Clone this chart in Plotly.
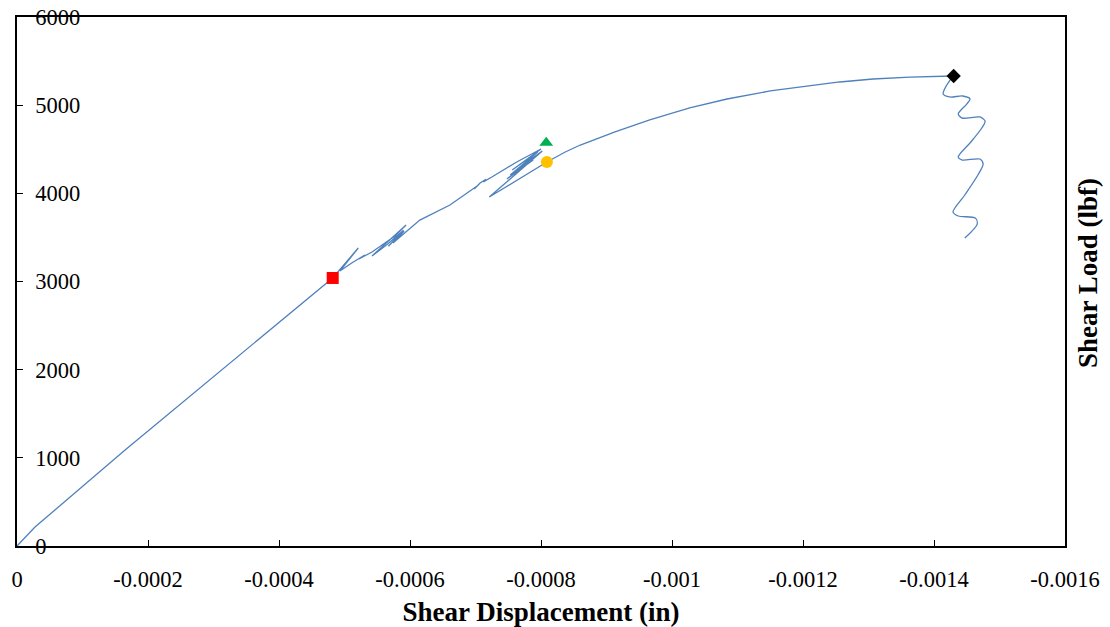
import plotly.graph_objects as go

# Shear load vs. shear displacement record (loading branch up to peak)
disp_in = [0, -0.0000275, -0.000165, -0.000325, -0.000482,
           -0.000521, -0.000493, -0.000511, -0.000531, -0.000522, -0.000542,
           -0.000577, -0.000594, -0.000542, -0.000566, -0.000590, -0.000567,
           -0.000585, -0.000573, -0.000591, -0.000574,
           -0.000615, -0.000661, -0.000684, -0.000697, -0.000703, -0.000698,
           -0.000707, -0.000716, -0.000712, -0.000725, -0.000763,
           -0.000800, -0.000756, -0.000795, -0.000753, -0.000792, -0.000748,
           -0.000788, -0.000768, -0.000802, -0.000721,
           -0.000809, -0.000837, -0.000860, -0.000913, -0.000966, -0.001027,
           -0.001084, -0.001150, -0.001206, -0.001256, -0.001307, -0.001363,
           -0.001429]
load_lbf = [0, 215, 1089, 2076, 3040,
            3380, 3119, 3210, 3300, 3255, 3335,
            3516, 3641, 3289, 3425, 3580, 3400,
            3539, 3471, 3573, 3437,
            3697, 3868, 3992, 4060, 4085, 4050,
            4117, 4160, 4130, 4185, 4355,
            4503, 4265, 4469, 4208, 4423, 4163,
            4378, 4299, 4480, 3958,
            4355, 4469, 4548, 4696, 4832, 4968,
            5070, 5161, 5217, 5263, 5297, 5319,
            5331]

# Post-peak softening branch
post_disp_in = [-0.001429, -0.001417, -0.001414, -0.001424, -0.001444, -0.001455,
                -0.001450, -0.001437, -0.001443, -0.001470, -0.001478, -0.001473,
                -0.001455, -0.001437, -0.001443, -0.001470, -0.001475, -0.001467,
                -0.001447, -0.001429, -0.001437, -0.001463, -0.001466, -0.001447]
post_load_lbf = [5331, 5195, 5127, 5093, 5104, 5070,
                 5013, 4900, 4854, 4866, 4820, 4741,
                 4571, 4412, 4378, 4389, 4333, 4208,
                 3981, 3788, 3743, 3720, 3652, 3493]

# Characteristic points
first_crack = (-0.000482, 3040)
max_elastic = (-0.000808, 4575)
yield_point = (-0.000809, 4355)
peak_point = (-0.00143, 5331)

x_tick_vals = [0, -0.0002, -0.0004, -0.0006, -0.0008, -0.001, -0.0012, -0.0014, -0.0016]
x_tick_text = ["0", "-0.0002", "-0.0004", "-0.0006", "-0.0008", "-0.001", "-0.0012", "-0.0014", "-0.0016"]
y_tick_vals = [0, 1000, 2000, 3000, 4000, 5000, 6000]

line_color = "#4f81bd"
serif = "Liberation Serif"
tick_font = dict(family=serif, size=22.5, color="black")
title_font = dict(family=serif, size=27, color="black")

fig = go.Figure()
fig.add_trace(go.Scatter(x=disp_in, y=load_lbf, mode="lines",
                         line=dict(color=line_color, width=1.3), showlegend=False))
fig.add_trace(go.Scatter(x=post_disp_in, y=post_load_lbf, mode="lines",
                         line=dict(color=line_color, width=1.3, shape="spline", smoothing=0.8),
                         showlegend=False))

markers = [
    (first_crack, "square", "#ff0000", 12),
    (max_elastic, "triangle-up", "#00b050", 12),
    (yield_point, "circle", "#ffc000", 12),
    (peak_point, "diamond", "#000000", 11),
]
for (px, py), sym, col, size in markers:
    fig.add_trace(go.Scatter(x=[px], y=[py], mode="markers",
                             marker=dict(symbol=sym, color=col, size=size),
                             showlegend=False))

fig.update_layout(
    width=1110, height=627,
    margin=dict(l=17, r=45, t=17, b=81),
    paper_bgcolor="white", plot_bgcolor="white",
    font=dict(family=serif, size=22.5, color="black"),
    xaxis=dict(
        range=[0, -0.0016], tickvals=x_tick_vals, ticktext=x_tick_text,
        showgrid=False, zeroline=False, automargin=False,
        showline=True, linecolor="black", linewidth=1.5, mirror=True,
        ticks="inside", ticklen=6, tickcolor="black",
        tickfont=tick_font, ticklabelstandoff=12, ticklabeloverflow="allow",
        title=dict(text="<b>Shear Displacement (in)</b>", font=title_font, standoff=12),
    ),
    yaxis=dict(
        range=[0, 6000], tickvals=y_tick_vals,
        showgrid=False, zeroline=False, automargin=False,
        showline=True, linecolor="black", linewidth=1.5, mirror=True,
        ticks="inside", ticklen=6, tickcolor="black",
        ticklabelposition="inside", ticklabelstandoff=14, ticklabeloverflow="allow",
        tickfont=tick_font,
    ),
    annotations=[dict(
        text="<b>Shear Load (lbf)</b>", xref="paper", yref="paper",
        x=1.022, y=0.516, textangle=-90, showarrow=False,
        font=title_font, xanchor="center", yanchor="middle",
    )],
)

fig.write_html("out.html")
